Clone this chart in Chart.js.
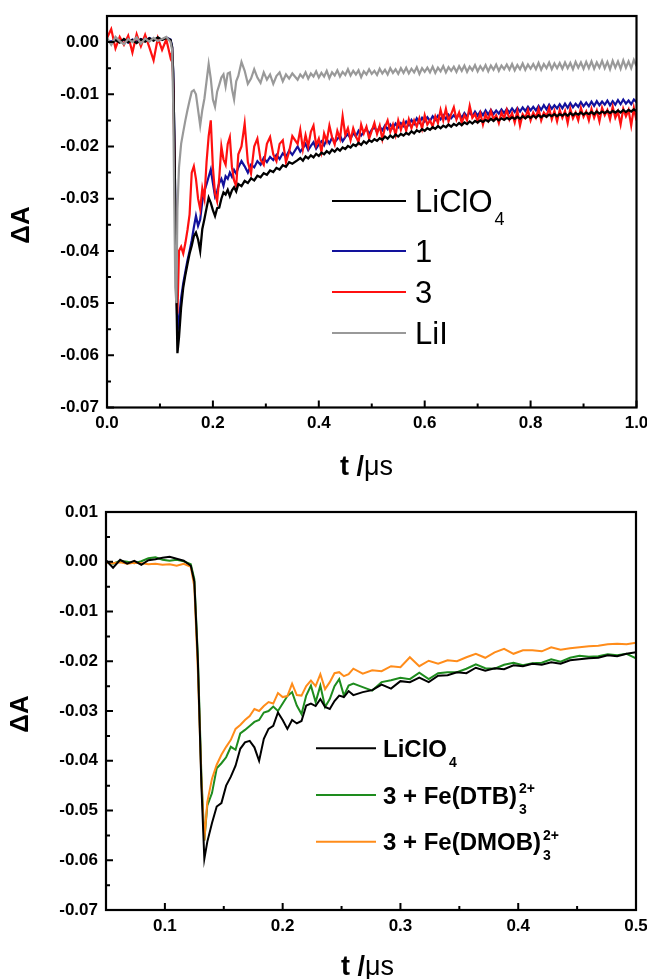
<!DOCTYPE html>
<html>
<head>
<meta charset="utf-8">
<script src="https://cdn.jsdelivr.net/npm/chart.js@4.4.1/dist/chart.umd.min.js"></script>
<style>
html,body{margin:0;padding:0;background:#fff;}
#wrap{position:relative;width:647px;height:979px;overflow:hidden;}
canvas{position:absolute;left:0;}
</style>
</head>
<body>
<div id="wrap">
<canvas id="c1" width="647" height="490" style="top:0px"></canvas>
<canvas id="c2" width="647" height="489" style="top:490px"></canvas>
</div>
<script>
// ---------------- TOP PANEL DATA ----------------
const tTop = [
0.000,0.008,0.016,0.024,0.032,0.040,0.048,0.056,0.064,0.072,0.080,0.088,0.096,0.104,0.112,0.120,
0.123,0.125,0.127,0.129,0.131,0.133,
0.136,0.140,0.144,0.148,0.152,0.156,0.160,0.164,0.168,0.172,0.176,0.180,0.184,0.188,0.192,0.196,0.200,0.204,0.208,0.212,0.216,0.220,0.224,0.228,0.232,0.236,0.240,0.244,0.248,
0.254,0.260,0.266,0.272,0.278,0.284,0.290,0.296,0.302,0.308,0.314,0.320,0.326,0.332,0.338,0.344,0.350,
0.360,0.365,0.370,0.375,0.380,0.385,0.390,0.395,0.400,0.405,
0.410,0.415,0.420,0.425,0.430,0.435,0.440,0.445,0.450,0.455,
0.460,0.465,0.470,0.475,0.480,0.485,0.490,0.495,0.500,0.505,
0.510,0.515,0.520,0.525,0.530,0.535,0.540,0.545,0.550,0.555,
0.560,0.565,0.570,0.575,0.580,0.585,0.590,0.595,0.600,0.605,
0.610,0.615,0.620,0.625,0.630,0.635,0.640,0.645,0.650,0.655,
0.660,0.665,0.670,0.675,0.680,0.685,0.690,0.695,0.700,0.705,
0.710,0.715,0.720,0.725,0.730,0.735,0.740,0.745,0.750,0.755,
0.760,0.765,0.770,0.775,0.780,0.785,0.790,0.795,0.800,0.805,
0.810,0.815,0.820,0.825,0.830,0.835,0.840,0.845,0.850,0.855,
0.860,0.865,0.870,0.875,0.880,0.885,0.890,0.895,0.900,0.905,
0.910,0.915,0.920,0.925,0.930,0.935,0.940,0.945,0.950,0.955,
0.960,0.965,0.970,0.975,0.980,0.985,0.990,0.995,1.000];

const dA_LiClO4_top = [
0.0005,-0.0003,0.0004,-0.0001,0.0006,0.0000,0.0004,-0.0002,0.0005,0.0001,0.0007,0.0003,0.0009,0.0004,0.0008,0.0004,
-0.0010,-0.0060,-0.0170,-0.0320,-0.0480,-0.0596,
-0.0565,-0.0508,-0.0470,-0.0446,-0.0425,-0.0405,-0.0390,-0.0372,-0.0365,-0.0378,-0.0400,-0.0358,-0.0339,-0.0318,-0.0298,-0.0308,-0.0322,-0.0333,-0.0318,-0.0317,-0.0300,-0.0288,-0.0292,-0.0283,-0.0295,-0.0284,-0.0278,-0.0286,-0.0272,
-0.0276,-0.0266,-0.0270,-0.0261,-0.0265,-0.0256,-0.0259,-0.0251,-0.0254,-0.0246,-0.0249,-0.0241,-0.0244,-0.0236,-0.0239,-0.0230,-0.0233,
-0.0226,-0.0222,-0.0227,-0.0219,-0.0223,-0.0217,-0.0221,-0.0214,-0.0218,-0.0212,
-0.0215,-0.0209,-0.0213,-0.0206,-0.0210,-0.0204,-0.0208,-0.0202,-0.0205,-0.0199,
-0.0202,-0.0196,-0.0199,-0.0193,-0.0197,-0.0190,-0.0194,-0.0188,-0.0191,-0.0186,
-0.0189,-0.0184,-0.0187,-0.0181,-0.0185,-0.0179,-0.0183,-0.0177,-0.0181,-0.0176,
-0.0179,-0.0174,-0.0177,-0.0171,-0.0175,-0.0169,-0.0172,-0.0167,-0.0170,-0.0165,
-0.0168,-0.0163,-0.0166,-0.0161,-0.0165,-0.0160,-0.0163,-0.0158,-0.0162,-0.0157,
-0.0160,-0.0155,-0.0159,-0.0154,-0.0157,-0.0152,-0.0156,-0.0151,-0.0154,-0.0150,
-0.0153,-0.0149,-0.0152,-0.0147,-0.0151,-0.0146,-0.0150,-0.0146,-0.0149,-0.0145,
-0.0148,-0.0144,-0.0147,-0.0143,-0.0147,-0.0142,-0.0146,-0.0142,-0.0145,-0.0141,
-0.0145,-0.0140,-0.0144,-0.0140,-0.0143,-0.0139,-0.0142,-0.0138,-0.0142,-0.0138,
-0.0141,-0.0137,-0.0141,-0.0136,-0.0140,-0.0136,-0.0139,-0.0135,-0.0139,-0.0135,
-0.0138,-0.0134,-0.0138,-0.0133,-0.0137,-0.0133,-0.0136,-0.0132,-0.0136,-0.0132,
-0.0135,-0.0131,-0.0135,-0.0130,-0.0134,-0.0130,-0.0133,-0.0129,-0.0132];

const dA_1_top = [
0.0003,0.0001,0.0006,0.0002,0.0004,-0.0001,0.0005,0.0001,0.0006,0.0002,0.0008,0.0004,0.0007,0.0005,0.0009,0.0005,
-0.0008,-0.0055,-0.0165,-0.0310,-0.0460,-0.0555,
-0.0530,-0.0490,-0.0462,-0.0440,-0.0418,-0.0400,-0.0380,-0.0355,-0.0333,-0.0352,-0.0340,-0.0305,-0.0285,-0.0272,-0.0258,-0.0244,-0.0270,-0.0295,-0.0285,-0.0270,-0.0262,-0.0275,-0.0257,-0.0262,-0.0250,-0.0258,-0.0245,-0.0252,-0.0240,
-0.0228,-0.0238,-0.0250,-0.0235,-0.0240,-0.0228,-0.0235,-0.0222,-0.0230,-0.0220,-0.0226,-0.0216,-0.0224,-0.0213,-0.0220,-0.0208,-0.0216,
-0.0200,-0.0210,-0.0203,-0.0195,-0.0207,-0.0199,-0.0192,-0.0204,-0.0196,-0.0190,
-0.0198,-0.0186,-0.0194,-0.0183,-0.0192,-0.0186,-0.0179,-0.0190,-0.0182,-0.0176,
-0.0185,-0.0174,-0.0181,-0.0170,-0.0179,-0.0172,-0.0166,-0.0176,-0.0168,-0.0163,
-0.0172,-0.0162,-0.0169,-0.0160,-0.0167,-0.0158,-0.0165,-0.0156,-0.0163,-0.0155,
-0.0161,-0.0152,-0.0159,-0.0149,-0.0157,-0.0146,-0.0154,-0.0145,-0.0152,-0.0144,
-0.0151,-0.0142,-0.0149,-0.0141,-0.0148,-0.0140,-0.0147,-0.0139,-0.0146,-0.0140,
-0.0146,-0.0137,-0.0145,-0.0136,-0.0143,-0.0134,-0.0142,-0.0133,-0.0141,-0.0133,
-0.0140,-0.0131,-0.0139,-0.0130,-0.0138,-0.0131,-0.0137,-0.0129,-0.0136,-0.0128,
-0.0135,-0.0127,-0.0134,-0.0126,-0.0133,-0.0125,-0.0132,-0.0124,-0.0131,-0.0124,
-0.0131,-0.0122,-0.0130,-0.0121,-0.0129,-0.0120,-0.0128,-0.0121,-0.0127,-0.0119,
-0.0127,-0.0118,-0.0126,-0.0117,-0.0125,-0.0118,-0.0124,-0.0115,-0.0123,-0.0116,
-0.0123,-0.0114,-0.0122,-0.0113,-0.0121,-0.0114,-0.0120,-0.0112,-0.0121,-0.0113,
-0.0120,-0.0111,-0.0119,-0.0110,-0.0118,-0.0112,-0.0119,-0.0110,-0.0115];

const dA_3_top = [
0.0008,0.0025,-0.0012,0.0010,-0.0005,0.0012,-0.0020,0.0015,-0.0008,0.0014,-0.0010,-0.0035,0.0008,-0.0015,0.0005,-0.0030,
-0.0020,-0.0080,-0.0200,-0.0350,-0.0480,-0.0520,
-0.0400,-0.0392,-0.0405,-0.0385,-0.0360,-0.0330,-0.0250,-0.0238,-0.0262,-0.0300,-0.0320,-0.0280,-0.0300,-0.0230,-0.0180,-0.0150,-0.0240,-0.0290,-0.0305,-0.0260,-0.0200,-0.0225,-0.0235,-0.0195,-0.0182,-0.0240,-0.0265,-0.0276,-0.0215,
-0.0200,-0.0156,-0.0230,-0.0252,-0.0200,-0.0185,-0.0225,-0.0235,-0.0195,-0.0182,-0.0215,-0.0228,-0.0195,-0.0188,-0.0230,-0.0210,-0.0180,
-0.0195,-0.0168,-0.0205,-0.0178,-0.0200,-0.0172,-0.0160,-0.0198,-0.0185,-0.0210,
-0.0175,-0.0190,-0.0160,-0.0182,-0.0196,-0.0170,-0.0185,-0.0142,-0.0178,-0.0165,
-0.0188,-0.0165,-0.0180,-0.0192,-0.0158,-0.0175,-0.0162,-0.0185,-0.0170,-0.0155,
-0.0176,-0.0160,-0.0186,-0.0163,-0.0150,-0.0172,-0.0158,-0.0178,-0.0150,-0.0168,
-0.0152,-0.0170,-0.0148,-0.0165,-0.0150,-0.0162,-0.0146,-0.0166,-0.0140,-0.0158,
-0.0150,-0.0162,-0.0142,-0.0155,-0.0130,-0.0150,-0.0128,-0.0152,-0.0138,-0.0125,
-0.0148,-0.0135,-0.0155,-0.0140,-0.0150,-0.0122,-0.0145,-0.0138,-0.0152,-0.0136,
-0.0158,-0.0138,-0.0150,-0.0132,-0.0148,-0.0140,-0.0155,-0.0135,-0.0146,-0.0130,
-0.0148,-0.0136,-0.0154,-0.0132,-0.0160,-0.0138,-0.0145,-0.0130,-0.0150,-0.0135,
-0.0145,-0.0128,-0.0150,-0.0135,-0.0142,-0.0126,-0.0148,-0.0132,-0.0152,-0.0130,
-0.0145,-0.0132,-0.0155,-0.0128,-0.0146,-0.0135,-0.0150,-0.0126,-0.0143,-0.0133,
-0.0150,-0.0128,-0.0145,-0.0131,-0.0152,-0.0126,-0.0140,-0.0130,-0.0148,-0.0124,
-0.0145,-0.0133,-0.0158,-0.0128,-0.0142,-0.0130,-0.0160,-0.0126,-0.0150];

const dA_LiI_top = [
0.0008,-0.0005,0.0010,0.0002,-0.0004,0.0006,0.0000,0.0009,-0.0003,0.0007,0.0001,0.0008,0.0002,0.0006,0.0010,0.0000,
-0.0015,-0.0120,-0.0300,-0.0470,-0.0500,-0.0320,
-0.0240,-0.0195,-0.0172,-0.0150,-0.0130,-0.0112,-0.0095,-0.0092,-0.0100,-0.0130,-0.0160,-0.0130,-0.0108,-0.0075,-0.0042,-0.0070,-0.0110,-0.0124,-0.0095,-0.0082,-0.0068,-0.0062,-0.0085,-0.0060,-0.0058,-0.0090,-0.0110,-0.0075,-0.0065,
-0.0038,-0.0055,-0.0080,-0.0070,-0.0052,-0.0068,-0.0078,-0.0058,-0.0072,-0.0062,-0.0080,-0.0065,-0.0058,-0.0075,-0.0062,-0.0070,-0.0060,
-0.0072,-0.0062,-0.0068,-0.0058,-0.0070,-0.0060,-0.0066,-0.0056,-0.0068,-0.0059,
-0.0066,-0.0055,-0.0069,-0.0058,-0.0064,-0.0054,-0.0066,-0.0057,-0.0063,-0.0052,
-0.0064,-0.0055,-0.0062,-0.0054,-0.0067,-0.0056,-0.0062,-0.0052,-0.0061,-0.0055,
-0.0063,-0.0051,-0.0060,-0.0053,-0.0062,-0.0050,-0.0059,-0.0052,-0.0061,-0.0050,
-0.0059,-0.0049,-0.0060,-0.0051,-0.0058,-0.0048,-0.0061,-0.0050,-0.0057,-0.0049,
-0.0058,-0.0047,-0.0059,-0.0049,-0.0056,-0.0046,-0.0058,-0.0048,-0.0055,-0.0047,
-0.0057,-0.0046,-0.0055,-0.0045,-0.0057,-0.0047,-0.0054,-0.0044,-0.0056,-0.0046,
-0.0054,-0.0044,-0.0056,-0.0045,-0.0053,-0.0043,-0.0055,-0.0045,-0.0052,-0.0043,
-0.0053,-0.0042,-0.0054,-0.0044,-0.0052,-0.0041,-0.0053,-0.0043,-0.0051,-0.0042,
-0.0052,-0.0040,-0.0053,-0.0042,-0.0050,-0.0039,-0.0052,-0.0041,-0.0050,-0.0040,
-0.0051,-0.0039,-0.0050,-0.0040,-0.0052,-0.0038,-0.0049,-0.0039,-0.0051,-0.0038,
-0.0050,-0.0037,-0.0051,-0.0039,-0.0049,-0.0036,-0.0050,-0.0038,-0.0052,-0.0036,
-0.0049,-0.0037,-0.0051,-0.0035,-0.0049,-0.0037,-0.0050,-0.0034,-0.0046];

const labelsTop = ['LiClO_4', '1', '3', 'LiI'];
const xTicksTop = [0.0, 0.2, 0.4, 0.6, 0.8, 1.0];
const xMinorTop = [0.1, 0.3, 0.5, 0.7, 0.9];
const yTicksTop = [0.00, -0.01, -0.02, -0.03, -0.04, -0.05, -0.06, -0.07];
const yMinorTop = [-0.005, -0.015, -0.025, -0.035, -0.045, -0.055, -0.065];

// ---------------- BOTTOM PANEL DATA ----------------
const tBot = [
0.050,0.056,0.062,0.068,0.074,0.080,0.086,0.092,0.098,0.104,0.110,0.116,0.122,
0.125,0.128,0.131,0.1335,
0.136,0.140,0.144,0.148,0.152,0.156,0.160,0.164,0.168,0.172,0.176,0.180,0.184,0.188,0.192,0.196,
0.200,0.204,0.208,0.212,0.216,0.220,0.224,0.228,0.232,0.236,0.240,0.244,0.248,0.252,0.256,0.260,
0.268,0.276,0.284,0.292,0.300,0.308,0.316,0.324,0.332,0.340,0.348,0.356,0.364,0.372,0.380,
0.388,0.396,0.404,0.412,0.420,0.428,0.436,0.444,0.452,0.460,0.468,0.476,0.484,0.492,0.500];

const dA_LiClO4_bot = [
0.0003,-0.0012,0.0004,-0.0004,0.0002,-0.0006,0.0003,0.0005,0.0008,0.0010,0.0006,0.0002,-0.0008,
-0.0040,-0.0200,-0.0450,-0.0597,
-0.0563,-0.0525,-0.0492,-0.0485,-0.0450,-0.0432,-0.0410,-0.0376,-0.0363,-0.0360,-0.0373,-0.0400,-0.0356,-0.0336,-0.0330,-0.0303,
-0.0318,-0.0336,-0.0318,-0.0325,-0.0320,-0.0289,-0.0285,-0.0290,-0.0276,-0.0292,-0.0296,-0.0280,-0.0269,-0.0272,-0.0260,-0.0268,
-0.0262,-0.0258,-0.0247,-0.0255,-0.0240,-0.0242,-0.0233,-0.0242,-0.0229,-0.0228,-0.0222,-0.0224,-0.0213,-0.0219,-0.0214,
-0.0216,-0.0208,-0.0210,-0.0205,-0.0207,-0.0202,-0.0205,-0.0198,-0.0196,-0.0194,-0.0193,-0.0188,-0.0190,-0.0185,-0.0182];

const dA_DTB_bot = [
0.0000,-0.0004,0.0002,0.0000,-0.0003,0.0001,0.0007,0.0009,0.0004,0.0002,0.0004,0.0001,-0.0005,
-0.0035,-0.0190,-0.0430,-0.0560,
-0.0490,-0.0465,-0.0415,-0.0405,-0.0393,-0.0372,-0.0378,-0.0345,-0.0338,-0.0330,-0.0322,-0.0318,-0.0303,-0.0300,-0.0291,-0.0300,
-0.0285,-0.0270,-0.0262,-0.0289,-0.0306,-0.0269,-0.0249,-0.0282,-0.0249,-0.0292,-0.0276,-0.0250,-0.0236,-0.0269,-0.0249,-0.0245,
-0.0252,-0.0259,-0.0242,-0.0238,-0.0233,-0.0236,-0.0223,-0.0236,-0.0224,-0.0222,-0.0222,-0.0215,-0.0206,-0.0214,-0.0215,
-0.0207,-0.0203,-0.0208,-0.0204,-0.0203,-0.0196,-0.0201,-0.0193,-0.0189,-0.0191,-0.0190,-0.0186,-0.0188,-0.0185,-0.0194];

const dA_DMOB_bot = [
-0.0002,-0.0003,-0.0001,-0.0004,-0.0002,-0.0003,-0.0005,-0.0004,-0.0006,-0.0005,-0.0008,-0.0004,-0.0010,
-0.0050,-0.0220,-0.0440,-0.0560,
-0.0483,-0.0436,-0.0408,-0.0388,-0.0372,-0.0358,-0.0336,-0.0328,-0.0318,-0.0310,-0.0296,-0.0300,-0.0290,-0.0282,-0.0285,-0.0264,
-0.0272,-0.0270,-0.0245,-0.0268,-0.0269,-0.0250,-0.0239,-0.0250,-0.0226,-0.0256,-0.0242,-0.0224,-0.0222,-0.0230,-0.0226,-0.0215,
-0.0225,-0.0218,-0.0220,-0.0210,-0.0212,-0.0192,-0.0210,-0.0199,-0.0205,-0.0198,-0.0200,-0.0192,-0.0185,-0.0193,-0.0182,
-0.0175,-0.0185,-0.0178,-0.0178,-0.0180,-0.0172,-0.0177,-0.0174,-0.0172,-0.0170,-0.0169,-0.0166,-0.0165,-0.0166,-0.0163];

const labelsBot = ['LiClO_4', '3 + Fe(DTB)_3^2+', '3 + Fe(DMOB)_3^2+'];
const xTicksBot = [0.1, 0.2, 0.3, 0.4, 0.5];
const xMinorBot = [0.15, 0.25, 0.35, 0.45];
const yTicksBot = [0.01, 0.00, -0.01, -0.02, -0.03, -0.04, -0.05, -0.06, -0.07];
const yMinorBot = [0.005, -0.005, -0.015, -0.025, -0.035, -0.045, -0.055, -0.065];

const xTitleBold = 't /';
const xTitleRegular = '\u03bcs';
const yTitle = '\u0394A';

// ---------------- RENDERING ----------------
const FAM = '"Liberation Sans", Arial, Helvetica, sans-serif';

function pairs(t, v) { return t.map((x, i) => ({ x: x, y: v[i] })); }

function drawRich(ctx, str, x, y, size, weight, small, subOff, supOff) {
  const m = str.match(/^([^_^]*)(?:_([^_^]*))?(?:\^(.*))?$/);
  const base = m[1], sub = m[2], sup = m[3];
  ctx.font = weight + ' ' + size + 'px ' + FAM;
  ctx.textAlign = 'left';
  ctx.textBaseline = 'alphabetic';
  ctx.fillText(base, x, y);
  const w = ctx.measureText(base).width;
  ctx.font = weight + ' ' + small + 'px ' + FAM;
  if (sub) ctx.fillText(sub, x + w + 2, y + subOff);
  if (sup) ctx.fillText(sup, x + w + 2, y - supOff);
}

const framePlugin = {
  id: 'frameTicks',
  afterDatasetsDraw(chart, args, o) {
    const ctx = chart.ctx, a = chart.chartArea, xs = chart.scales.x, ys = chart.scales.y;
    ctx.save();
    ctx.strokeStyle = '#000';
    ctx.lineWidth = 2;
    ctx.beginPath();
    o.xMajor.forEach(v => { const p = xs.getPixelForValue(v); ctx.moveTo(p, a.bottom); ctx.lineTo(p, a.bottom - 7); });
    o.xMinor.forEach(v => { const p = xs.getPixelForValue(v); ctx.moveTo(p, a.bottom); ctx.lineTo(p, a.bottom - 4); });
    o.yMajor.forEach(v => { const p = ys.getPixelForValue(v); ctx.moveTo(a.left, p); ctx.lineTo(a.left + 7, p); });
    o.yMinor.forEach(v => { const p = ys.getPixelForValue(v); ctx.moveTo(a.left, p); ctx.lineTo(a.left + 4, p); });
    ctx.stroke();
    ctx.lineWidth = 2.2;
    ctx.strokeRect(a.left, a.top, a.right - a.left, a.bottom - a.top);
    ctx.restore();
  }
};

const legendPlugin = {
  id: 'richLegend',
  afterDraw(chart, args, o) {
    const ctx = chart.ctx;
    ctx.save();
    chart.data.datasets.forEach((ds, i) => {
      const y = o.ys[i];
      ctx.strokeStyle = ds.borderColor;
      ctx.lineWidth = 2;
      ctx.beginPath();
      ctx.moveTo(o.x0, y); ctx.lineTo(o.x1, y);
      ctx.stroke();
      ctx.fillStyle = '#000';
      drawRich(ctx, o.labels[i], o.tx, y + o.baseOff, o.size, o.weight, o.small, o.subOff, o.supOff);
    });
    ctx.restore();
  }
};

const titlePlugin = {
  id: 'axisTitles',
  afterDraw(chart, args, o) {
    const ctx = chart.ctx;
    ctx.save();
    ctx.fillStyle = '#000';
    ctx.textBaseline = 'alphabetic';
    ctx.textAlign = 'left';
    ctx.font = 'bold 27px ' + FAM;
    ctx.fillText(xTitleBold, o.xtX, o.xtY);
    const w = ctx.measureText(xTitleBold).width;
    ctx.font = '27px ' + FAM;
    ctx.fillText(xTitleRegular, o.xtX + w, o.xtY);
    ctx.translate(o.ytX, o.ytY);
    ctx.rotate(-Math.PI / 2);
    ctx.textAlign = 'center';
    ctx.textBaseline = 'middle';
    ctx.font = 'bold 26px ' + FAM;
    ctx.fillText(yTitle, 0, 0);
    ctx.restore();
  }
};

function fmt(v, d) {
  if (Math.abs(v) < 1e-9) v = 0;
  return v.toFixed(d);
}

function makeChart(id, cfg) {
  return new Chart(document.getElementById(id), {
    type: 'line',
    data: { datasets: cfg.datasets },
    plugins: [framePlugin, legendPlugin, titlePlugin],
    options: {
      responsive: false,
      animation: false,
      devicePixelRatio: 1,
      layout: { padding: { top: cfg.padTop, right: cfg.padRight, left: 0, bottom: 0 } },
      elements: { point: { radius: 0 }, line: { borderWidth: 2, tension: 0 } },
      plugins: {
        legend: { display: false },
        tooltip: { enabled: false },
        frameTicks: { xMajor: cfg.xMajor, xMinor: cfg.xMinor, yMajor: cfg.yMajor, yMinor: cfg.yMinor },
        richLegend: cfg.legend,
        axisTitles: cfg.titles
      },
      scales: {
        x: {
          type: 'linear', min: cfg.xMin, max: cfg.xMax,
          grid: { display: false, drawTicks: false },
          border: { display: false },
          ticks: {
            color: '#000', padding: 6, maxRotation: 0, autoSkip: false,
            font: { family: FAM, size: 17, weight: 'bold' },
            callback: v => fmt(v, 1)
          },
          afterBuildTicks: s => { s.ticks = cfg.xMajor.map(v => ({ value: v })); },
          afterFit: s => { s.height = cfg.xH; s.paddingLeft = 0; s.paddingRight = 0; }
        },
        y: {
          type: 'linear', min: cfg.yMin, max: cfg.yMax,
          grid: { display: false, drawTicks: false },
          border: { display: false },
          ticks: {
            color: '#000', padding: 8, autoSkip: false,
            font: { family: FAM, size: 17, weight: 'bold' },
            callback: v => fmt(v, 2)
          },
          afterBuildTicks: s => { s.ticks = cfg.yMajor.map(v => ({ value: v })); },
          afterFit: s => { s.width = cfg.yW; s.paddingTop = 0; s.paddingBottom = 0; }
        }
      }
    }
  });
}

function ds(t, v, color, label, w) {
  return { label: label, data: pairs(t, v), borderColor: color, backgroundColor: color, borderWidth: w, pointRadius: 0, fill: false, tension: 0 };
}

const topDatasets = [
  ds(tTop, dA_LiClO4_top, '#000000', labelsTop[0], 2.3),
  ds(tTop, dA_1_top, '#12129c', labelsTop[1], 2.2),
  ds(tTop, dA_3_top, '#ff1010', labelsTop[2], 2.2),
  ds(tTop, dA_LiI_top, '#999999', labelsTop[3], 2.2)
];
// draw order: gray on top, then black, red, blue
topDatasets[3].order = 0; topDatasets[0].order = 1; topDatasets[2].order = 2; topDatasets[1].order = 3;

makeChart('c1', {
  datasets: topDatasets,
  padTop: 16, padRight: 10.5, xH: 82.5, yW: 107,
  xMin: 0, xMax: 1.0, yMin: -0.07, yMax: 0.005,
  xMajor: xTicksTop, xMinor: xMinorTop, yMajor: yTicksTop, yMinor: yMinorTop,
  legend: { labels: labelsTop, x0: 332, x1: 406, tx: 415, ys: [201, 251, 292, 333], baseOff: 11.3,
            size: 31, weight: 'normal', small: 18, subOff: 12.5, supOff: 12 },
  titles: { xtX: 340, xtY: 475, ytX: 22, ytY: 225 }
});

const botDatasets = [
  ds(tBot, dA_LiClO4_bot, '#000000', labelsBot[0], 2),
  ds(tBot, dA_DTB_bot, '#1e8c1e', labelsBot[1], 2),
  ds(tBot, dA_DMOB_bot, '#ff8c1a', labelsBot[2], 2)
];
botDatasets[0].order = 0; botDatasets[2].order = 1; botDatasets[1].order = 2;

makeChart('c2', {
  datasets: botDatasets,
  padTop: 22, padRight: 11, xH: 69, yW: 106,
  xMin: 0.05, xMax: 0.5, yMin: -0.07, yMax: 0.01,
  xMajor: xTicksBot, xMinor: xMinorBot, yMajor: yTicksBot, yMinor: yMinorBot,
  legend: { labels: labelsBot, x0: 316, x1: 376, tx: 383, ys: [258.3, 305, 351.7], baseOff: 8.5,
            size: 24, weight: 'bold', small: 14, subOff: 10, supOff: 10.5 },
  titles: { xtX: 341, xtY: 485, ytX: 21, ytY: 224 }
});
</script>
</body>
</html>
